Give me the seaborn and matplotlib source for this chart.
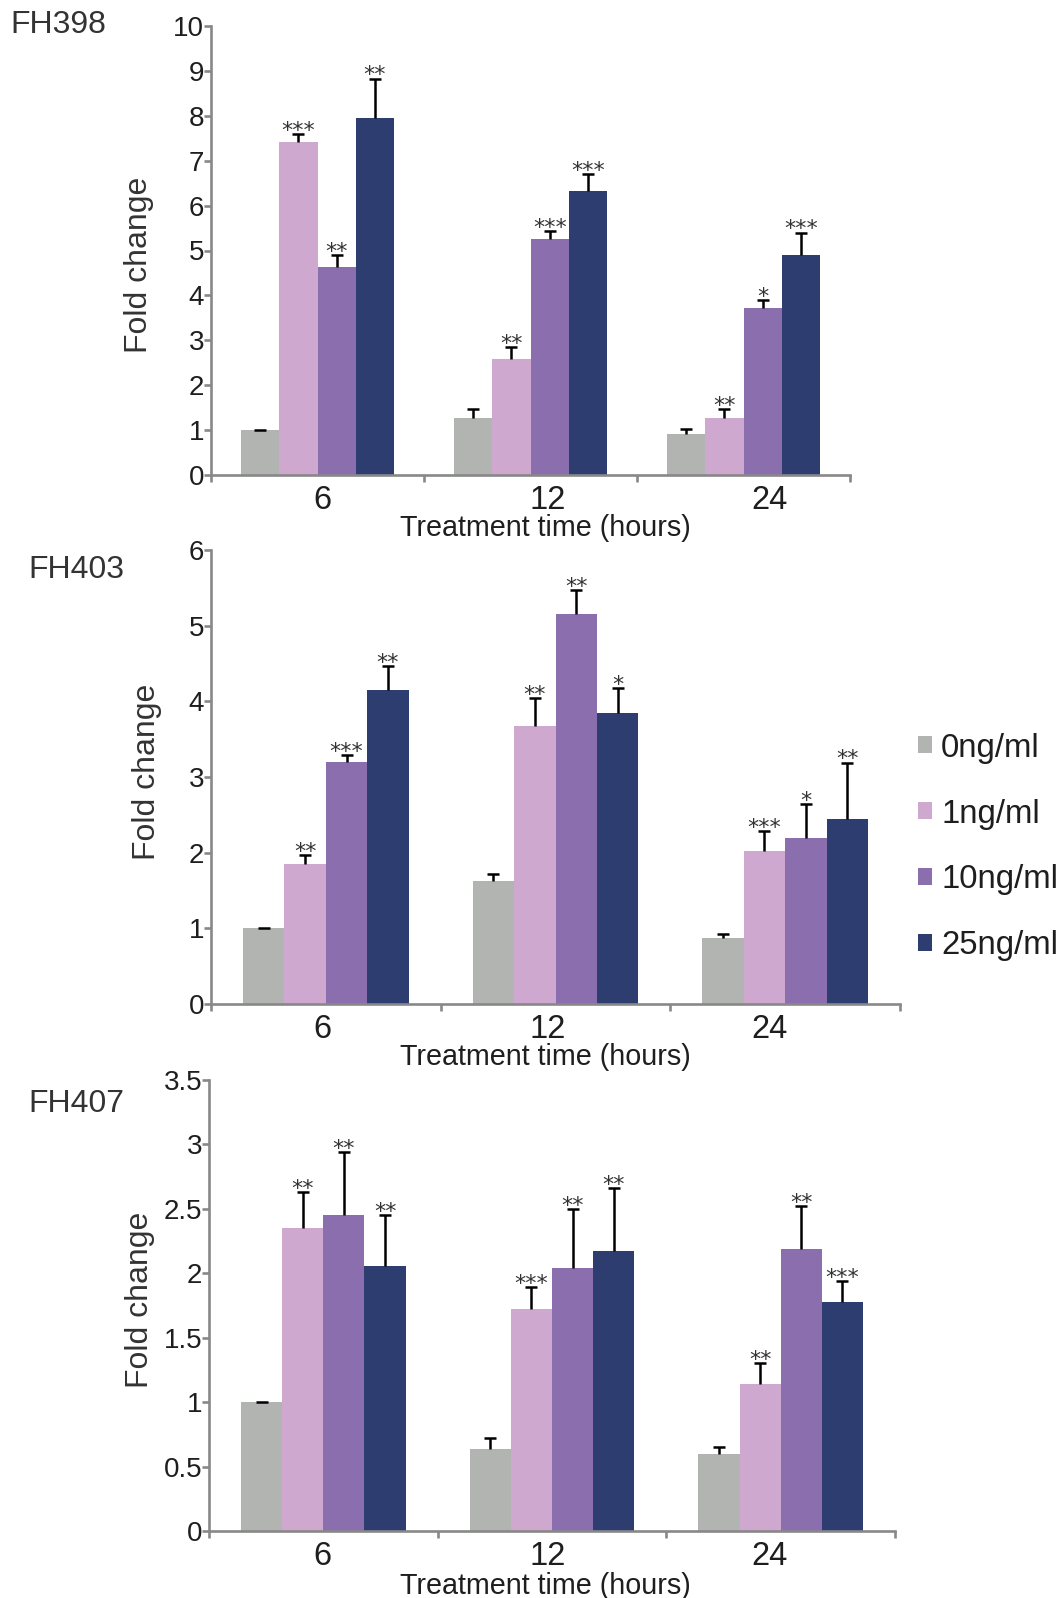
import matplotlib
matplotlib.use("Agg")
import matplotlib.pyplot as plt
from matplotlib.patches import Patch
from matplotlib.ticker import FixedLocator, FuncFormatter
import seaborn as sns
import pandas as pd

# ---------------- data ----------------
times = ["6", "12", "24"]
concs = ["0ng/ml", "1ng/ml", "10ng/ml", "25ng/ml"]
colors = ["#b2b4b2", "#cea8cf", "#8b6ead", "#2e3d70"]

# values per time point, ordered as concs
fh398_mean = [[1.00, 7.42, 4.63, 7.94], [1.28, 2.58, 5.26, 6.33], [0.91, 1.28, 3.73, 4.90]]
fh398_err = [[0.00, 0.17, 0.27, 0.89], [0.18, 0.26, 0.18, 0.37], [0.11, 0.18, 0.17, 0.50]]
fh398_sig = [["", "***", "**", "**"], ["", "**", "***", "***"], ["", "**", "*", "***"]]

fh403_mean = [[1.00, 1.85, 3.20, 4.15], [1.63, 3.67, 5.15, 3.85], [0.87, 2.02, 2.20, 2.44]]
fh403_err = [[0.00, 0.12, 0.09, 0.32], [0.09, 0.37, 0.32, 0.32], [0.06, 0.27, 0.44, 0.75]]
fh403_sig = [["", "**", "***", "**"], ["", "**", "**", "*"], ["", "***", "*", "**"]]

fh407_mean = [[1.00, 2.35, 2.45, 2.06], [0.64, 1.72, 2.04, 2.17], [0.60, 1.14, 2.19, 1.78]]
fh407_err = [[0.00, 0.28, 0.49, 0.39], [0.08, 0.17, 0.46, 0.49], [0.05, 0.16, 0.33, 0.16]]
fh407_sig = [["", "**", "**", "**"], ["", "***", "**", "**"], ["", "**", "**", "***"]]

panel_names = ["FH398", "FH403", "FH407"]
y_max = [10, 6, 3.5]
y_step = [1, 1, 0.5]

# ---------------- style ----------------
sns.set_style("white")
plt.rcParams["font.family"] = ["Liberation Sans", "DejaVu Sans"]

W, H = 1064, 1598
fig = plt.figure(figsize=(W / 100, H / 100), dpi=100)

axes_px = [  # left, right, top, bottom in pixels
    (211, 850, 26, 475),
    (211, 900, 550, 1004),
    (209, 895, 1080, 1531),
]
ylabel_x = [-0.089, -0.071, -0.079]
ylabel_y = [0.468, 0.511, 0.512]
xlabel_y = [-0.087, -0.086, -0.091]
name_pos = [(10, 33), (28, 578), (28, 1112)]
tick_label_px = [322, 548, 770]   # x pixel centres of the category labels
xlabel_px = 545

spine_col = "#888888"
text_col = "#1e1e1e"

datasets = [
    (fh398_mean, fh398_err, fh398_sig),
    (fh403_mean, fh403_err, fh403_sig),
    (fh407_mean, fh407_err, fh407_sig),
]

for p, (means, errs, sigs) in enumerate(datasets):
    l, r, t, b = axes_px[p]
    ax = fig.add_axes([l / W, 1 - b / H, (r - l) / W, (b - t) / H])
    rows = []
    for ti, tm in enumerate(times):
        for ci, c in enumerate(concs):
            rows.append({"time": tm, "conc": c, "value": means[ti][ci]})
    df = pd.DataFrame(rows)
    sns.barplot(data=df, x="time", y="value", hue="conc", order=times,
                hue_order=concs, palette=colors, saturation=1, width=0.72,
                errorbar=None, linewidth=0, legend=False, ax=ax)

    bar_conts = list(ax.containers)
    for ci, cont in enumerate(bar_conts):
        for ti, bar in enumerate(cont.patches):
            xc = bar.get_x() + bar.get_width() / 2
            m = means[ti][ci]
            e = errs[ti][ci]
            _, caps, _ = ax.errorbar([xc], [m], yerr=[[0], [e]], fmt="none",
                                     ecolor="black", elinewidth=1.8, capsize=4.2,
                                     capthick=1.8, zorder=4)
            caps[0].set_visible(False)   # only the upper cap, as in the original
            if sigs[ti][ci]:
                ax.annotate(sigs[ti][ci], xy=(xc, m + e), xytext=(0, -2),
                            textcoords="offset points", ha="center", va="baseline",
                            fontsize=16, color="#333333", zorder=5,
                            family="DejaVu Sans")

    ax.set_xlim(-0.5, 2.5)
    ax.set_ylim(0, y_max[p])
    n = int(round(y_max[p] / y_step[p]))
    ax.yaxis.set_major_locator(FixedLocator([i * y_step[p] for i in range(n + 1)]))
    ax.yaxis.set_major_formatter(FuncFormatter(lambda v, pos: f"{v:g}"))
    tick_pos = [(px - l) / (r - l) * 3 - 0.5 for px in tick_label_px]
    ax.set_xticks(tick_pos, labels=times)
    ax.xaxis.set_minor_locator(FixedLocator([-0.5, 0.5, 1.5, 2.5]))

    for s in ["top", "right"]:
        ax.spines[s].set_visible(False)
    for s in ["left", "bottom"]:
        ax.spines[s].set_color(spine_col)
        ax.spines[s].set_linewidth(1.9)
    ax.tick_params(axis="y", which="major", direction="out", length=5, width=1.9,
                   color=spine_col, labelsize=20, labelcolor=text_col, pad=0, left=True)
    ax.tick_params(axis="x", which="major", length=0, labelsize=23.5,
                   labelcolor=text_col, pad=7)
    ax.tick_params(axis="x", which="minor", direction="out", length=5, width=1.9,
                   color=spine_col, bottom=True)

    ax.set_xlabel("Treatment time (hours)", fontsize=20.7, color=text_col)
    ax.xaxis.set_label_coords((xlabel_px - l) / (r - l), xlabel_y[p])
    ax.xaxis.label.set_va("top")
    ax.set_ylabel("Fold change", fontsize=23, color="#333333")
    ax.yaxis.set_label_coords(ylabel_x[p], ylabel_y[p])
    ax.set_facecolor("white")

    nx, ny = name_pos[p]
    fig.text(nx / W, 1 - ny / H, panel_names[p], fontsize=23, color="#333333",
             ha="left", va="baseline")

handles = [Patch(facecolor=c, edgecolor="none", label=lab) for c, lab in zip(colors, concs)]
fig.legend(handles=handles, loc="center left", bbox_to_anchor=(918 / W, 1 - 847 / H),
           frameon=False, fontsize=23.7, handlelength=0.42, handleheight=0.42,
           handletextpad=0.28, labelspacing=1.06, borderpad=0, borderaxespad=0,
           labelcolor=text_col)

fig.savefig("out.png", dpi=100, facecolor="white")
